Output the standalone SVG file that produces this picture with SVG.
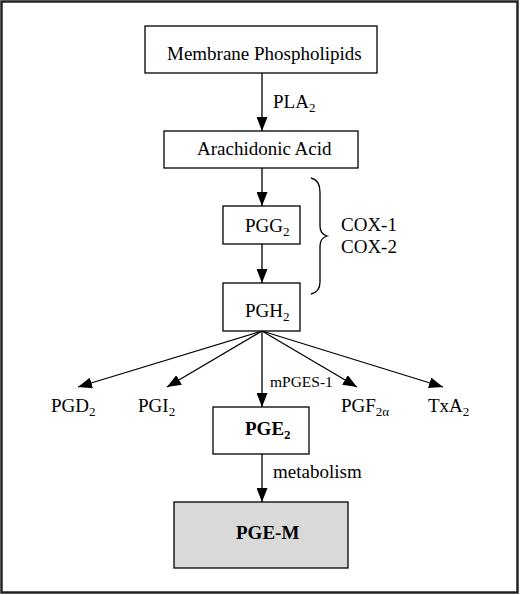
<svg xmlns="http://www.w3.org/2000/svg" width="520" height="595" viewBox="0 0 520 595">
<style>
.box{fill:#fff;stroke:#000;stroke-width:1.3}
.t{font-family:"Liberation Serif","Times New Roman",serif;font-size:19px;fill:#000}
.b{font-weight:bold}
.s{font-size:13px}
.ln{stroke:#000;stroke-width:1.3;fill:none}
</style>
<defs>
<marker id="ah" viewBox="0 0 14 11" refX="14" refY="5.5" markerWidth="14" markerHeight="11" markerUnits="userSpaceOnUse" orient="auto">
<path d="M0,0 L14,5.5 L0,11 Z" fill="#000"/>
</marker>
</defs>
<rect width="520" height="595" fill="#fff"/>
<rect x="1.5" y="1.5" width="516" height="591" fill="none" stroke="#222" stroke-width="2.5"/>
<g id="connectors">
<line class="ln" x1="262" y1="73" x2="262" y2="131" marker-end="url(#ah)"/>
<line class="ln" x1="262" y1="168" x2="262" y2="206" marker-end="url(#ah)"/>
<line class="ln" x1="262" y1="244" x2="262" y2="283" marker-end="url(#ah)"/>
<line class="ln" x1="262" y1="331" x2="78" y2="387" marker-end="url(#ah)"/>
<line class="ln" x1="262" y1="331" x2="167" y2="387" marker-end="url(#ah)"/>
<line class="ln" x1="262" y1="331" x2="262" y2="407" marker-end="url(#ah)"/>
<line class="ln" x1="262" y1="331" x2="357" y2="387" marker-end="url(#ah)"/>
<line class="ln" x1="262" y1="331" x2="443" y2="387" marker-end="url(#ah)"/>
<line class="ln" x1="262" y1="454" x2="262" y2="502" marker-end="url(#ah)"/>
<path class="ln" d="M311,178 Q320,180 320,192 L320,226 Q320,234 327,236 Q320,238 320,246 L320,282 Q320,292 311,294"/>
<text class="t" x="273" y="108">PLA<tspan class="s" dy="4">2</tspan></text>
<text class="t" x="341" y="231">COX-1</text>
<text class="t" x="341" y="253">COX-2</text>
<text class="t" x="270" y="387" style="font-size:15.5px">mPGES-1</text>
<text class="t" x="273" y="478">metabolism</text>
</g>
<g id="membrane">
<rect class="box" x="145" y="26" width="232" height="47"/>
<text class="t" x="167" y="60">Membrane Phospholipids</text>
</g>
<g id="arachidonic">
<rect class="box" x="164" y="131" width="194" height="37"/>
<text class="t" x="197" y="155">Arachidonic Acid</text>
</g>
<g id="pgg2">
<rect class="box" x="223" y="206" width="77" height="38"/>
<text class="t" x="245" y="232">PGG<tspan class="s" dy="4">2</tspan></text>
</g>
<g id="pgh2">
<rect class="box" x="223" y="283" width="77" height="48"/>
<text class="t" x="245" y="317">PGH<tspan class="s" dy="4">2</tspan></text>
</g>
<g id="pgd2"><text class="t" x="51" y="412">PGD<tspan class="s" dy="4">2</tspan></text></g>
<g id="pgi2"><text class="t" x="138" y="412">PGI<tspan class="s" dy="4">2</tspan></text></g>
<g id="pgf2a"><text class="t" x="341" y="412">PGF<tspan class="s" dy="4">2α</tspan></text></g>
<g id="txa2"><text class="t" x="428" y="412">TxA<tspan class="s" dy="4">2</tspan></text></g>
<g id="pge2">
<rect class="box" x="213" y="407" width="96" height="47"/>
<text class="t b" x="245" y="435">PGE<tspan class="s" dy="4">2</tspan></text>
</g>
<g id="pgem">
<rect class="box" x="174" y="502" width="174" height="66" style="fill:#d9d9d9"/>
<text class="t b" x="236" y="539">PGE-M</text>
</g>
</svg>
